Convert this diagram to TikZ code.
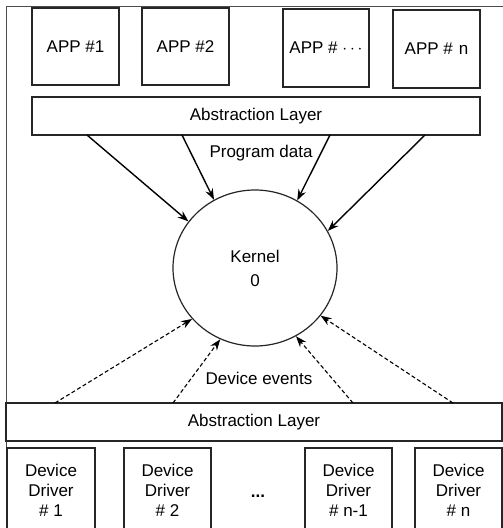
\documentclass[tikz,border=0pt]{standalone}
\usepackage{fontspec}
\setmainfont{Liberation Sans}
\usetikzlibrary{arrows.meta,shapes.geometric}
\begin{document}
\begin{tikzpicture}[x=1pt,y=-1pt,
  box/.style={draw=black!85,line width=1.2pt,rectangle,inner sep=0pt,
    font=\fontsize{17}{20}\selectfont,align=center},
  appbox/.style={box,minimum width=87pt,minimum height=77pt},
  layer/.style={box,minimum height=38pt},
  drvbox/.style={box,minimum width=87pt,minimum height=84pt},
  flow/.style={line width=1.4pt,-{Stealth[length=11pt,width=8pt]}},
  event/.style={line width=1.1pt,dash pattern=on 4pt off 2.5pt,-{Stealth[length=11pt,width=8pt]}},
  lbl/.style={font=\fontsize{17}{20}\selectfont,inner sep=1pt}]
\useasboundingbox (0,0) rectangle (503,528);
\clip (0,0) rectangle (503,528);
\fill[white] (0,0) rectangle (503,528);

% outer frame (left and top edges)
\draw[black!70,line width=1pt] (6,530) -- (6,6) -- (503,6);

% applications
\node[appbox] (app1) at (75.5,46.5) {APP \#1};
\node[appbox] (app2) at (185.5,46.5) {APP \#2};
\node[appbox,minimum width=86pt,minimum height=78pt] (appdots) at (326,48) {APP \# $\cdots$};
\node[appbox,minimum height=78pt] (appn) at (436.5,49) {APP \#\hspace{6pt}n};

% upper abstraction layer
\node[layer,minimum width=448pt] (uplayer) at (256,116) {Abstraction Layer};

% kernel
\node[draw=black!85,line width=1.2pt,ellipse,minimum width=164pt,minimum height=156pt,
  align=center,font=\fontsize{17}{24}\selectfont] (kernel) at (255,268) {Kernel\\0};

% program data flows
\coordinate (p1) at (87,135);
\coordinate (p2) at (182,135);
\coordinate (p3) at (330,135);
\coordinate (p4) at (425,135);
\draw[flow] (p1) -- (kernel.145);
\draw[flow] (p2) -- (kernel.121);
\draw[flow] (p3) -- (kernel.58);
\draw[flow] (p4) -- (kernel.27);
\node[lbl] (pdata) at (261,153) {Program data};

% lower abstraction layer
\node[layer,minimum width=496pt] (lowlayer) at (254,422) {Abstraction Layer};

% device event flows
\coordinate (e1) at (55,403);
\coordinate (e2) at (173,403);
\coordinate (e3) at (353,403);
\coordinate (e4) at (453,403);
\draw[event] (e1) -- (kernel.-141);
\draw[event] (e2) -- (kernel.-116);
\draw[event] (e3) -- (kernel.-59);
\draw[event] (e4) -- (kernel.-36);
\node[lbl] (devev) at (259,378) {Device events};

% device drivers
\node[drvbox,minimum width=88pt] (drv1) at (51,490) {Device\\Driver\\\# 1};
\node[drvbox] (drv2) at (167.5,490) {Device\\Driver\\\# 2};
\node[lbl,font=\fontsize{17}{20}\bfseries] (ddots) at (258,496) {...};
\node[drvbox] (drvm) at (348.5,490) {Device\\Driver\\\# n-1};
\node[drvbox] (drvn) at (458.5,490) {Device\\Driver\\\# n};
\end{tikzpicture}
\end{document}
